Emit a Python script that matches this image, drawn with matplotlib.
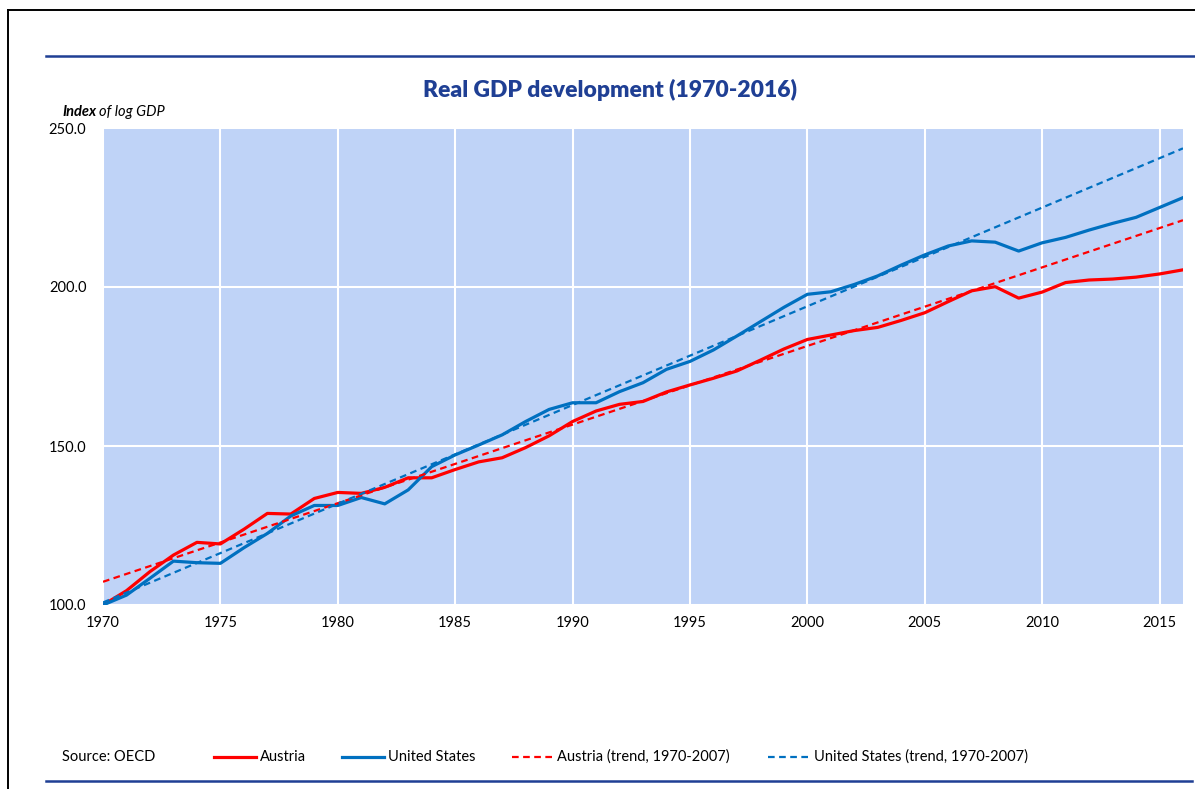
import matplotlib
matplotlib.use("Agg")
import matplotlib.pyplot as plt
from matplotlib.lines import Line2D

plt.rcParams['font.family'] = ['Lato', 'DejaVu Sans']

# ---------------- data ----------------
years = list(range(1970, 2017))
austria = [100.0, 104.5, 110.5, 115.7, 119.7, 119.2, 123.8, 128.8, 128.6, 133.5,
           135.4, 135.1, 137.0, 140.0, 140.0, 142.6, 145.0, 146.3, 149.5, 153.2,
           157.7, 161.0, 163.1, 164.0, 167.0, 169.2, 171.3, 173.6, 177.0, 180.5,
           183.5, 184.9, 186.3, 187.3, 189.5, 191.9, 195.4, 198.8, 200.1, 196.5,
           198.4, 201.4, 202.2, 202.5, 203.1, 204.1, 205.4]
united_states = [100.0, 103.1, 108.4, 113.8, 113.3, 113.1, 118.0, 122.5, 128.0, 131.3,
                 131.3, 133.8, 131.8, 136.2, 143.5, 147.2, 150.3, 153.5, 157.7, 161.5,
                 163.6, 163.6, 167.1, 169.9, 174.1, 176.6, 180.2, 184.6, 189.1, 193.6,
                 197.7, 198.5, 200.8, 203.5, 206.9, 210.1, 212.9, 214.5, 214.1, 211.3,
                 213.9, 215.6, 217.9, 220.0, 221.9, 225.0, 228.1]
trend_years = [1970, 2016]
austria_trend = [107.3, 221.0]
us_trend = [100.8, 243.6]

x_ticks = [1970, 1975, 1980, 1985, 1990, 1995, 2000, 2005, 2010, 2015]
y_ticks = [100, 150, 200, 250]
y_tick_labels = ["100.0", "150.0", "200.0", "250.0"]
series_labels = ["Austria", "United States", "Austria (trend, 1970-2007)",
                 "United States (trend, 1970-2007)"]
title = "Real GDP development (1970-2016)"
source = "Source: OECD"

RED = "#FF0000"
BLUE = "#0070C0"
NAVY = "#1F3F94"
BG = "#BFD3F7"

W, H = 1195, 789
fig = plt.figure(figsize=(W / 100, H / 100), dpi=100)


def fx(px):
    return px / W


def fy(py):
    return 1 - py / H


ax = fig.add_axes([fx(103), fy(605), fx(1183 - 103), (605 - 128) / H])
ax.set_facecolor(BG)

ax.plot(years, austria, color=RED, lw=2.3, solid_joinstyle='round', zorder=3)
ax.plot(years, united_states, color=BLUE, lw=2.3, solid_joinstyle='round', zorder=3)
ax.plot(trend_years, austria_trend, color=RED, lw=1.6, dashes=(3, 2), zorder=4)
ax.plot(trend_years, us_trend, color=BLUE, lw=1.6, dashes=(3, 2), zorder=4)

ax.set_xlim(1970, 2016)
ax.set_ylim(100, 250)
ax.set_xticks(x_ticks)
ax.set_xticklabels([str(v) for v in x_ticks])
ax.set_yticks(y_ticks)
ax.set_yticklabels(y_tick_labels)
ax.tick_params(length=0, labelsize=10.5, colors="black")
ax.tick_params(axis='y', pad=12)
ax.tick_params(axis='x', pad=8)
ax.grid(True, color="white", lw=1.5, zorder=1)
ax.set_axisbelow(True)
for s in ax.spines.values():
    s.set_visible(False)

# frame and rules
fig.add_artist(Line2D([fx(7.5), fx(7.5)], [fy(10), 0], color="black", lw=1.4))
fig.add_artist(Line2D([fx(7.5), 1], [fy(10), fy(10)], color="black", lw=1.4))
fig.add_artist(Line2D([fx(46), 1], [fy(55.5), fy(55.5)], color=NAVY, lw=1.8))
fig.add_artist(Line2D([fx(46), fx(1192)], [fy(781), fy(781)], color=NAVY, lw=1.8))

# title and axis label
fig.text(fx(610), fy(90), title, ha="center", va="center", fontsize=16.5,
         fontweight="heavy", color=NAVY)
fig.text(fx(62), fy(112), "Index", ha="left", va="center", fontsize=10.5,
         fontweight="bold", fontstyle="italic")
fig.text(fx(99), fy(112), "of log GDP", ha="left", va="center", fontsize=10.5,
         fontstyle="italic")

# legend row
fig.text(fx(62), fy(757), source, ha="left", va="center", fontsize=10.5)
leg_specs = [
    (214, 256, 260, RED, None, 2.3),
    (342, 384, 388, BLUE, None, 2.3),
    (512, 553, 557, RED, (3, 2), 1.6),
    (768, 810, 814, BLUE, (3, 2), 1.6),
]
for (x0, x1, xt, col, dash, lw), lab in zip(leg_specs, series_labels):
    ln = Line2D([fx(x0), fx(x1)], [fy(757), fy(757)], color=col, lw=lw)
    if dash:
        ln.set_dashes(dash)
    fig.add_artist(ln)
    fig.text(fx(xt), fy(757), lab, ha="left", va="center", fontsize=10.5)

fig.savefig("out.png", dpi=100)
